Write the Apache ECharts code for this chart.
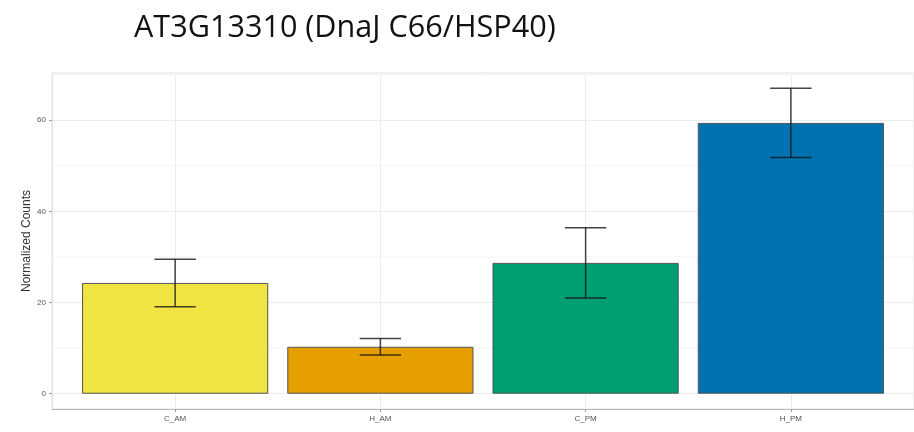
<!DOCTYPE html>
<html>
<head>
<meta charset="utf-8">
<script src="https://cdn.jsdelivr.net/npm/echarts@6/dist/echarts.min.js"></script>
<style>html,body{margin:0;padding:0;background:#fff;}#c{width:914px;height:432px;}</style>
</head>
<body>
<div id="c"></div>
<script>
const titleText = 'AT3G13310 (DnaJ C66/HSP40)';
const categories = ['C_AM', 'H_AM', 'C_PM', 'H_PM'];
const means = [24.3, 10.3, 28.7, 59.4];
const errors = [5.2, 1.8, 7.7, 7.6];
const barColors = ['#F0E442', '#E69F00', '#009E73', '#0072B2'];
const yTicks = [0, 20, 40, 60];
const yMinorGrid = [10, 30, 50, 70];

const xPositions = categories.map((c, i) => i + 1);
const gridLeft = 52, gridTop = 73, gridWidth = 869, gridHeight = 336;
const xMin = 0.4, xMax = 4.6;
const bandPx = gridWidth / (xMax - xMin);

const chart = echarts.init(document.getElementById('c'));
chart.setOption({
  backgroundColor: '#fff',
  animation: false,
  title: {
    text: titleText, left: 129, top: 8,
    textStyle: { fontFamily: 'Open Sans', fontSize: 30.6, fontWeight: 'normal', color: '#111' }
  },
  grid: {
    left: gridLeft, top: gridTop, width: gridWidth, height: gridHeight,
    show: true, borderColor: '#e3e3e3', borderWidth: 1, backgroundColor: '#fff'
  },
  xAxis: {
    type: 'value', min: xMin, max: xMax,
    axisLine: { show: true, onZero: false, lineStyle: { color: '#b8b8b8', width: 1 } },
    axisTick: { show: true, customValues: xPositions, length: 3, lineStyle: { color: '#999' } },
    axisLabel: {
      customValues: xPositions, margin: 6,
      formatter: v => categories[Math.round(v) - 1] || '',
      fontFamily: 'Liberation Sans', fontSize: 8, color: '#555'
    },
    splitLine: { show: true, lineStyle: { color: '#ececec', width: 1 } }
  },
  yAxis: {
    type: 'value', min: -3.35, max: 70.35,
    name: 'Normalized Counts', nameLocation: 'middle', nameGap: 19, nameMoveOverlap: false,
    nameTextStyle: { fontFamily: 'Liberation Sans', fontSize: 12, color: '#333' },
    axisLine: { show: true, lineStyle: { color: '#e3e3e3' } },
    axisTick: { show: true, customValues: yTicks, length: 3, lineStyle: { color: '#999' } },
    axisLabel: { customValues: yTicks, margin: 6, fontFamily: 'Liberation Sans', fontSize: 8, color: '#555' },
    splitLine: { show: true, lineStyle: { color: '#ececec', width: 1 } }
  },
  series: [
    {
      type: 'custom',
      silent: true,
      data: yMinorGrid.map(v => [v]),
      renderItem: (params, api) => {
        const y = api.coord([xMin, api.value(0)])[1];
        return {
          type: 'line',
          shape: { x1: gridLeft, y1: y, x2: gridLeft + gridWidth, y2: y },
          style: { stroke: '#f4f4f4', lineWidth: 1 }
        };
      }
    },
    {
      type: 'bar',
      barWidth: bandPx * 0.9,
      data: means.map((m, i) => ({
        value: [xPositions[i], m],
        itemStyle: { color: barColors[i], borderColor: '#555', borderWidth: 1 }
      }))
    },
    {
      type: 'custom',
      silent: true,
      z: 5,
      data: means.map((m, i) => [xPositions[i], m - errors[i], m + errors[i]]),
      renderItem: (params, api) => {
        const x = api.value(0);
        const lo = api.coord([x, api.value(1)]);
        const hi = api.coord([x, api.value(2)]);
        const half = bandPx * 0.1;
        const st = { stroke: 'rgba(20,20,20,0.8)', lineWidth: 1.5 };
        return {
          type: 'group',
          children: [
            { type: 'line', shape: { x1: lo[0], y1: lo[1], x2: hi[0], y2: hi[1] }, style: st },
            { type: 'line', shape: { x1: lo[0] - half, y1: lo[1], x2: lo[0] + half, y2: lo[1] }, style: st },
            { type: 'line', shape: { x1: hi[0] - half, y1: hi[1], x2: hi[0] + half, y2: hi[1] }, style: st }
          ]
        };
      }
    }
  ]
});
</script>
</body>
</html>
